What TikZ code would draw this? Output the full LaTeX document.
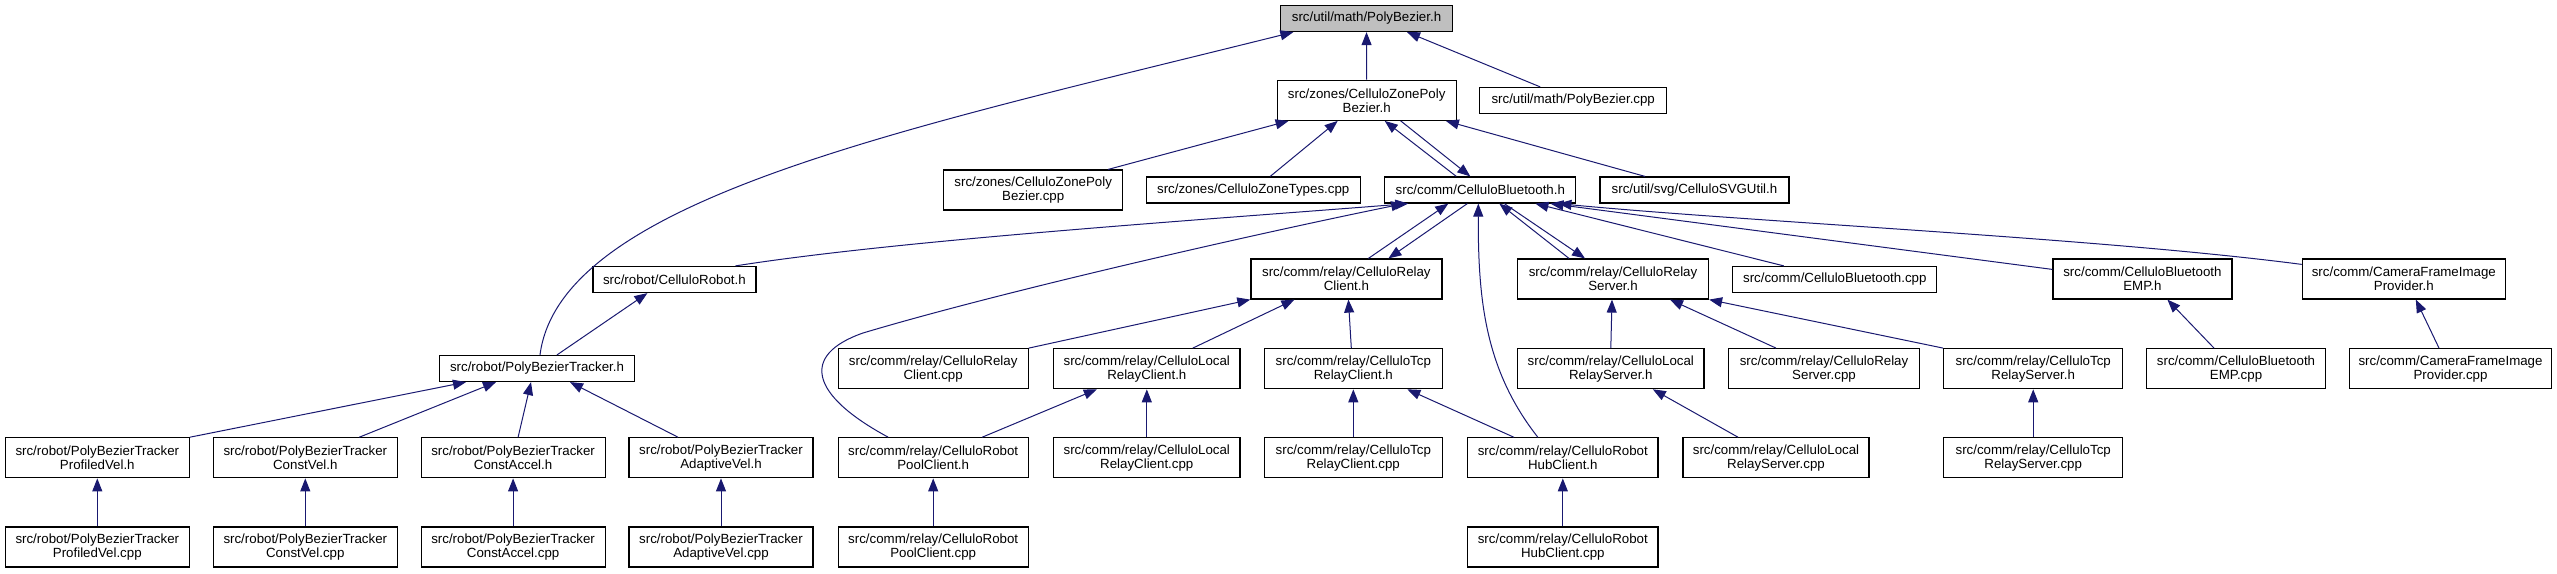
\documentclass[tikz,border=0pt]{standalone}
\usepackage{fontspec}
\setmainfont{Liberation Sans}
\usetikzlibrary{calc,arrows.meta}
\definecolor{edgeblue}{HTML}{191970}
\definecolor{rootgray}{HTML}{BFBFBF}
\tikzset{
  box/.style={draw=black, line width=0.6pt, fill=white, inner sep=0pt, align=center,
              font=\fontsize{6.65pt}{7pt}\selectfont},
  one/.style={box, minimum height=13pt},
  two/.style={box, minimum height=20pt},
  dep/.style={draw=edgeblue, line width=0.5pt, -{Triangle[length=6.5pt,width=5pt]}}
}
\begin{document}
\begin{tikzpicture}[x=0.5pt,y=-0.5pt]
\useasboundingbox (0,0) rectangle (2557,573);
% row 0
\node[one, fill=rootgray, minimum width=86pt] (pbh) at (1366.5,18.5) {src/util/math/PolyBezier.h};
% row 1
\node[two, minimum width=89.5pt] (czpbh) at (1366.7,100.3) {src/zones/CelluloZonePoly\\Bezier.h};
\node[one, minimum width=93.5pt] (pbcpp) at (1573.2,100.5) {src/util/math/PolyBezier.cpp};
% row 2
\node[two, minimum width=89.5pt] (czpbcpp) at (1033.2,190) {src/zones/CelluloZonePoly\\Bezier.cpp};
\node[one, minimum width=107pt] (czt) at (1253.2,190) {src/zones/CelluloZoneTypes.cpp};
\node[one, minimum width=95.5pt] (cbh) at (1480.3,190) {src/comm/CelluloBluetooth.h};
\node[one, minimum width=94.5pt] (svg) at (1694.5,190) {src/util/svg/CelluloSVGUtil.h};
% row 3
\node[one, minimum width=81.5pt] (robot) at (674.4,279.5) {src/robot/CelluloRobot.h};
\node[two, minimum width=95.5pt] (rch) at (1346.4,279) {src/comm/relay/CelluloRelay\\Client.h};
\node[two, minimum width=95.5pt] (rsh) at (1613,279) {src/comm/relay/CelluloRelay\\Server.h};
\node[one, minimum width=102pt] (cbcpp) at (1834.8,279.5) {src/comm/CelluloBluetooth.cpp};
\node[two, minimum width=89.5pt] (emph) at (2142.4,279) {src/comm/CelluloBluetooth\\EMP.h};
\node[two, minimum width=101.5pt] (camh) at (2403.8,279) {src/comm/CameraFrameImage\\Provider.h};
% row 4
\node[one, minimum width=97.5pt] (pbt) at (537,368.5) {src/robot/PolyBezierTracker.h};
\node[two, minimum width=95pt] (rccpp) at (933.2,368.7) {src/comm/relay/CelluloRelay\\Client.cpp};
\node[two, minimum width=93.25pt] (lrch) at (1146.8,368.7) {src/comm/relay/CelluloLocal\\RelayClient.h};
\node[two, minimum width=89pt] (trch) at (1353.3,368.7) {src/comm/relay/CelluloTcp\\RelayClient.h};
\node[two, minimum width=93.25pt] (lrsh) at (1610.8,368.7) {src/comm/relay/CelluloLocal\\RelayServer.h};
\node[two, minimum width=95.5pt] (rscpp) at (1824,368.7) {src/comm/relay/CelluloRelay\\Server.cpp};
\node[two, minimum width=89.5pt] (trsh) at (2033.2,368.7) {src/comm/relay/CelluloTcp\\RelayServer.h};
\node[two, minimum width=89.5pt] (empcpp) at (2236,368.7) {src/comm/CelluloBluetooth\\EMP.cpp};
\node[two, minimum width=101pt] (camcpp) at (2450.5,368.7) {src/comm/CameraFrameImage\\Provider.cpp};
% row 5
\node[two, minimum width=92pt] (pvh) at (97.3,457.8) {src/robot/PolyBezierTracker\\ProfiledVel.h};
\node[two, minimum width=92pt] (cvh) at (305.3,457.8) {src/robot/PolyBezierTracker\\ConstVel.h};
\node[two, minimum width=92pt] (cah) at (513.1,457.8) {src/robot/PolyBezierTracker\\ConstAccel.h};
\node[two, minimum width=92pt] (avh) at (721,457.8) {src/robot/PolyBezierTracker\\AdaptiveVel.h};
\node[two, minimum width=95pt] (pch) at (933.2,457.8) {src/comm/relay/CelluloRobot\\PoolClient.h};
\node[two, minimum width=93.25pt] (lrccpp) at (1146.8,457.8) {src/comm/relay/CelluloLocal\\RelayClient.cpp};
\node[two, minimum width=89pt] (trccpp) at (1353.3,457.8) {src/comm/relay/CelluloTcp\\RelayClient.cpp};
\node[two, minimum width=95.2pt] (hch) at (1562.8,457.8) {src/comm/relay/CelluloRobot\\HubClient.h};
\node[two, minimum width=93pt] (lrscpp) at (1776,457.8) {src/comm/relay/CelluloLocal\\RelayServer.cpp};
\node[two, minimum width=89.5pt] (trscpp) at (2033.2,457.8) {src/comm/relay/CelluloTcp\\RelayServer.cpp};
% row 6
\node[two, minimum width=92pt] (pvcpp) at (97.3,547) {src/robot/PolyBezierTracker\\ProfiledVel.cpp};
\node[two, minimum width=92pt] (cvcpp) at (305.3,547) {src/robot/PolyBezierTracker\\ConstVel.cpp};
\node[two, minimum width=92pt] (cacpp) at (513.1,547) {src/robot/PolyBezierTracker\\ConstAccel.cpp};
\node[two, minimum width=92pt] (avcpp) at (721,547) {src/robot/PolyBezierTracker\\AdaptiveVel.cpp};
\node[two, minimum width=95pt] (pccpp) at (933.2,547) {src/comm/relay/CelluloRobot\\PoolClient.cpp};
\node[two, minimum width=95.2pt] (hccpp) at (1562.8,547) {src/comm/relay/CelluloRobot\\HubClient.cpp};

% edges into PolyBezier.h
\draw[dep] (czpbh) -- (pbh);
\draw[dep] ($(pbcpp.north)+(-33,0)$) -- ($(pbh.south)+(40.5,0)$);
\draw[dep] ($(pbt.north)+(3,0)$) .. controls (560,200) and (900,130) .. ($(pbh.south west)+(13.5,0)$);
% edges into CelluloZonePolyBezier.h
\draw[dep] ($(czpbcpp.north)+(75,0)$) -- ($(czpbh.south west)+(12,0)$);
\draw[dep] ($(czt.north)+(17,0)$) -- ($(czpbh.south)+(-29,0)$);
\draw[dep] ($(cbh.north)+(-24,0)$) -- ($(czpbh.south)+(18,0)$);
\draw[dep] ($(czpbh.south)+(34,0)$) -- ($(cbh.north)+(-10,0)$);
\draw[dep] ($(svg.north)+(-49.5,0)$) -- ($(czpbh.south east)+(-11,0)$);
% edges into CelluloBluetooth.h
\draw[dep] ($(robot.north east)+(-21,0)$) .. controls (900,240) and (1200,220) .. ($(cbh.south west)+(24,0)$);
\draw[dep] ($(pch.north)+(-45,0)$) .. controls (810,395) and (800,355) .. (863,333) .. controls (1000,292) and (1250,235) .. ($(cbh.south west)+(20,0)$);
\draw[dep] ($(hch.north)+(-25,0)$) .. controls (1485,370) and (1478,300) .. ($(cbh.south)+(-2,0)$);
\draw[dep] ($(rch.north)+(22,0)$) -- ($(cbh.south)+(-32,0)$);
\draw[dep] ($(cbh.south)+(-13,0)$) -- ($(rch.north)+(42,0)$);
\draw[dep] ($(rsh.north)+(-44,0)$) -- ($(cbh.south)+(19,0)$);
\draw[dep] ($(cbh.south)+(24,0)$) -- ($(rsh.north)+(-28,0)$);
\draw[dep] ($(cbcpp.north)+(-51,0)$) -- ($(cbh.south east)+(-41,0)$);
\draw[dep] ($(emph.north west)+(0,11)$) -- ($(cbh.south east)+(-26,0)$);
\draw[dep] ($(camh.north west)+(0,6)$) .. controls (2100,238) and (1750,222) .. ($(cbh.south east)+(-18,0)$);
% robot
\draw[dep] ($(pbt.north)+(20,0)$) -- ($(robot.south)+(-27,0)$);
% relay client
\draw[dep] (rccpp.north east) -- (rch.south west);
\draw[dep] ($(lrch.north)+(46,0)$) -- ($(rch.south)+(-52,0)$);
\draw[dep] ($(trch.north)+(-2,0)$) -- ($(rch.south)+(2,0)$);
% relay server
\draw[dep] (lrsh.north) -- ($(rsh.south)+(-1,0)$);
\draw[dep] ($(rscpp.north)+(-48,0)$) -- ($(rsh.south)+(57,0)$);
\draw[dep] (trsh.north west) -- (rsh.south east);
% EMP / camera
\draw[dep] ($(empcpp.north)+(-22,0)$) -- ($(emph.south)+(25,0)$);
\draw[dep] ($(camcpp.north)+(-11.5,0)$) -- ($(camh.south)+(12,0)$);
% row 5 -> row 4
\draw[dep] ($(pch.north)+(49,0)$) -- ($(lrch.south)+(-50,0)$);
\draw[dep] (lrccpp) -- (lrch);
\draw[dep] (trccpp) -- (trch);
\draw[dep] ($(hch.north)+(-49,0)$) -- ($(trch.south)+(54,0)$);
\draw[dep] ($(lrscpp.north)+(-38,0)$) -- ($(lrsh.south)+(42,0)$);
\draw[dep] (trscpp) -- (trsh);
% PolyBezierTracker children
\draw[dep] (pvh.north east) -- ($(pbt.south)+(-71,0)$);
\draw[dep] ($(cvh.north)+(54,0)$) -- ($(pbt.south)+(-41,0)$);
\draw[dep] ($(cah.north)+(5,0)$) -- ($(pbt.south)+(-6,0)$);
\draw[dep] ($(avh.north)+(-43,0)$) -- ($(pbt.south)+(33,0)$);
% row 6 -> row 5
\draw[dep] (pvcpp) -- (pvh);
\draw[dep] (cvcpp) -- (cvh);
\draw[dep] (cacpp) -- (cah);
\draw[dep] (avcpp) -- (avh);
\draw[dep] (pccpp) -- (pch);
\draw[dep] (hccpp) -- (hch);
\end{tikzpicture}
\end{document}
